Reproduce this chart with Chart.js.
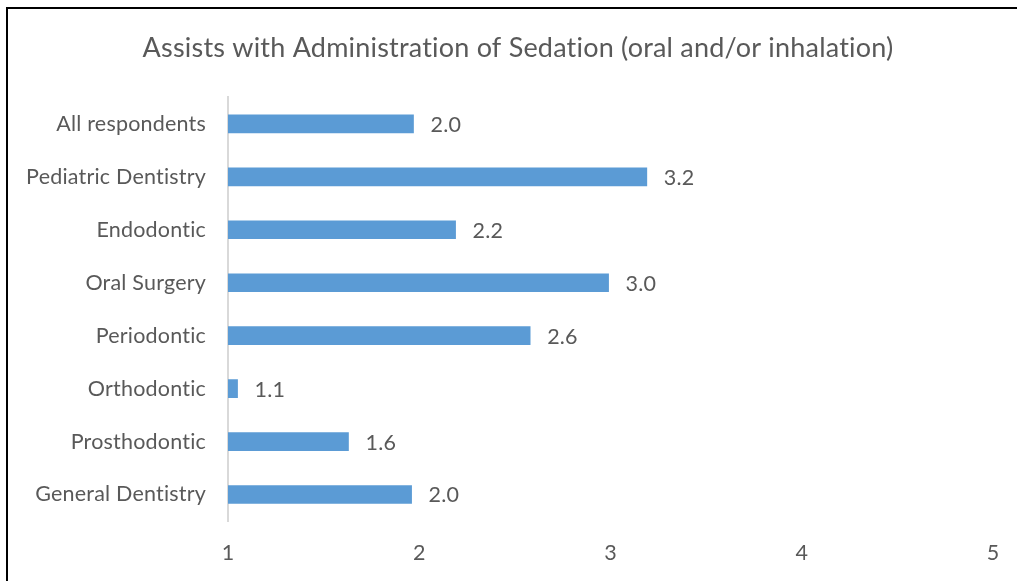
<!DOCTYPE html>
<html>
<head>
<meta charset="utf-8">
<script src="https://cdn.jsdelivr.net/npm/chart.js@4/dist/chart.umd.min.js"></script>
<style>
  html, body { margin: 0; padding: 0; background: #fff; overflow: hidden; }
  #wrap { position: relative; width: 1017px; height: 581px; overflow: hidden; }
  #frame { position: absolute; left: 6px; top: 7px; width: 1030px; height: 600px; border: 2px solid #000; box-sizing: border-box; pointer-events: none; }
  canvas { position: absolute; left: 0; top: 0; }
</style>
</head>
<body>
<div id="wrap">
  <canvas id="grafico" width="1017" height="581"></canvas>
  <div id="frame"></div>
</div>
<script>
// Dados do gráfico
const categorias = ['All respondents', 'Pediatric Dentistry', 'Endodontic', 'Oral Surgery',
                    'Periodontic', 'Orthodontic', 'Prosthodontic', 'General Dentistry'];
const valores = [1.97, 3.19, 2.19, 2.99, 2.58, 1.05, 1.63, 1.96];
const ticksX = [1, 2, 3, 4, 5];
const titulo = 'Assists with Administration of Sedation (oral and/or inhalation)';

const corTexto = '#595959';
const fonte = 'Lato, sans-serif';

// Espaçamento leve entre letras (também evita a ligadura "ti" da Lato)
const espacoPlugin = {
    id: 'espaco',
    beforeDraw(chart) { chart.ctx.letterSpacing = '0.2px'; }
};

// Rótulos de valor ao lado de cada barra
const rotulosPlugin = {
    id: 'rotulos',
    afterDatasetsDraw(chart) {
        const ctx = chart.ctx;
        const meta = chart.getDatasetMeta(0);
        ctx.save();
        ctx.font = '21.5px ' + fonte;
        ctx.fillStyle = corTexto;
        ctx.textAlign = 'left';
        ctx.textBaseline = 'middle';
        meta.data.forEach((bar, i) => {
            ctx.fillText(valores[i].toFixed(1), bar.x + 17, bar.y + 1);
        });
        ctx.restore();
    }
};

const ctx = document.getElementById('grafico').getContext('2d');
new Chart(ctx, {
    type: 'bar',
    data: {
        labels: categorias,
        datasets: [{
            data: valores,
            backgroundColor: '#5b9bd5',
            barThickness: 18,
            yAxisID: 'y'
        }]
    },
    options: {
        indexAxis: 'y',
        responsive: false,
        animation: false,
        layout: { padding: { left: 19, right: 0, top: 0, bottom: 0 } },
        scales: {
            x: {
                min: 1, max: 5,
                afterBuildTicks: s => { s.ticks = ticksX.map(v => ({ value: v })); },
                afterFit: s => { s.height = 60; },
                grid: { display: false },
                border: { display: false },
                ticks: { color: corTexto, font: { size: 21.5, family: fonte }, padding: 11, maxRotation: 0 }
            },
            y: {
                afterFit: s => { s.width = 209; },
                grid: { drawOnChartArea: false, drawTicks: false, color: 'transparent' },
                border: { display: true, color: '#d9d9d9', width: 2 },
                ticks: { color: corTexto, font: { size: 21.5, family: fonte }, padding: 22 }
            },
            // eixo vazio à direita, só para reservar a margem
            y2: {
                type: 'category',
                position: 'right',
                afterFit: s => { s.width = 24; },
                grid: { display: false },
                border: { display: false },
                ticks: { display: false }
            }
        },
        plugins: {
            legend: { display: false },
            tooltip: { enabled: false },
            title: {
                display: true,
                text: titulo,
                color: corTexto,
                font: { size: 27, family: fonte, weight: 'normal' },
                padding: { top: 32, bottom: 33 }
            }
        }
    },
    plugins: [espacoPlugin, rotulosPlugin]
});
</script>
</body>
</html>
